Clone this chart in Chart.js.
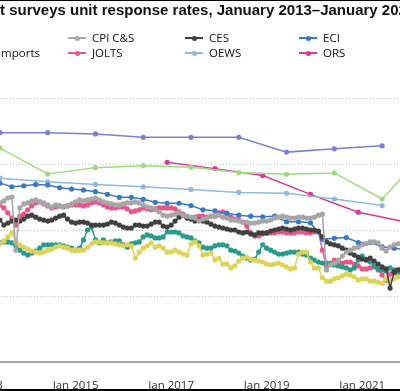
<!DOCTYPE html>
<html><head><meta charset="utf-8">
<script src="https://cdn.jsdelivr.net/npm/chart.js@4.4.1/dist/chart.umd.min.js"></script>
<style>
html,body{margin:0;padding:0;background:#fff;overflow:hidden;width:400px;height:391px;position:relative}
#wrap{position:absolute;left:-60px;top:0;width:520px;height:391px}
#title{position:absolute;top:1px;white-space:nowrap;font:bold 15px 'Liberation Sans',Arial,sans-serif;color:#111;line-height:18px}
.lg{position:absolute;white-space:nowrap;height:14px;width:140px}
.lg .tx{position:absolute;left:24px;top:0;font:11.5px 'Open Sans',sans-serif;color:#111;line-height:14px}
.lg .mk{position:absolute;left:0;top:6px;width:18px;height:2px}
.lg .dot{position:absolute;left:6.5px;top:-1.5px;width:5px;height:5px;border-radius:50%}
.rule{position:absolute;left:0;width:400px;background:#000}
</style></head><body>
<div id="wrap"><canvas id="c" width="520" height="391"></canvas></div>
<div id="title"></div>
<div id="legend"></div>
<div class="rule" style="top:0;height:1px"></div>
<div class="rule" style="top:389px;height:2px"></div>
<script>
// ---- text ----
const titleText = 'BLS establishment surveys unit response rates, January 2013\u2013January 2022';
const titleHiddenPrefix = 'BLS establishmen';

// ---- x axis ticks (month index from Jan 2013) ----
const tickMonths = [0, 24, 48, 72, 96];
const tickLabels = ['Jan 2013', 'Jan 2015', 'Jan 2017', 'Jan 2019', 'Jan 2021'];

// ---- annual series (month index of each observation) ----
const annualMonths = [5, 17, 29, 41, 53, 65, 77, 89, 101];
const soii = [69.5, 69.5, 69.1, 68.1, 68.1, 68.1, 63.6, 64.6, 65.5];
const arsMonths = [5, 17, 29, 41, 53, 65, 77, 89, 101, 108];
const ars = [64.8, 57.0, 58.9, 59.5, 59.0, 57.4, 56.9, 57.3, 49.4, 58.5];
const oews = [55.7, 54.6, 53.8, 53.1, 52.3, 51.4, 51.1, 49.4, 47.4];
const orsMonths = [47, 59, 71, 83, 95, 107];
const ors = [60.5, 58.6, 56.5, 50.8, 45.4, 42.4];

// ---- quarterly series ----
const eciMonths = [2,5,8,11,14,17,20,23,26,29,32,35,38,41,44,47,50,53,56,59,62,65,68,71,74,77,80,83,86,89,92,95,98,101,104,107];
const eci = [54.5, 54.2, 53.1, 53.4, 53.8, 53.6, 52.8, 52.4, 52.1, 51.6, 50.8, 49.9, 49.9, 49.3, 48.4, 48.1, 48.1, 47.4,
             46.1, 45.8, 45.1, 44.5, 44.2, 44.0, 44.2, 42.5, 42.5, 42.2, 37.2, 37.5, 37.7, 36.2, 36.2, 34.9, 34.5, 34.0];

// ---- monthly series, Jan 2013 .. Jan 2022 (one row per year) ----
const cpiCS = [
  48.5, 48.0, 48.8, 49.1, 48.5, 48.2, 48.8, 49.7, 50.0, 33.9, 46.7, 47.9,
  48.2, 48.8, 49.1, 48.5, 48.2, 47.6, 47.0, 47.6, 47.3, 47.0, 47.3, 47.9,
  48.5, 49.1, 48.8, 49.1, 49.4, 49.7, 49.1, 48.5, 48.2, 47.9, 47.6, 47.6,
  47.9, 48.2, 48.2, 48.5, 48.2, 47.6, 47.0, 46.7, 46.1, 45.5, 44.5, 44.2,
  44.5, 44.8, 45.2, 44.5, 44.2, 43.9, 43.6, 42.7, 43.3, 43.6, 44.2, 44.5,
  44.5, 43.9, 43.6, 43.0, 43.0, 42.7, 42.4, 42.4, 42.1, 42.1, 42.4, 42.7,
  42.7, 43.0, 43.6, 43.9, 44.2, 43.9, 43.6, 43.6, 43.9, 43.9, 43.6, 43.6,
  43.9, 44.5, 44.8, 27.9, 29.4, 30.0, 30.9, 32.1, 33.3, 33.9, 34.5, 34.8,
  35.5, 35.8, 36.4, 36.4, 36.1, 34.5, 33.6, 34.8, 35.5, 35.8, 36.1, 36.4,
  36.0];
const ces = [
  42.4, 43.0, 42.7, 43.3, 42.7, 43.0, 41.5, 42.1, 42.7, 43.0, 42.7, 43.3,
  44.2, 44.5, 43.9, 43.3, 43.0, 42.7, 43.0, 43.6, 44.2, 44.5, 43.3, 42.4,
  42.1, 42.4, 42.4, 42.1, 41.5, 41.5, 41.5, 41.5, 41.8, 42.4, 42.1, 41.5,
  40.9, 40.6, 40.6, 41.5, 41.5, 41.2, 41.2, 41.8, 42.4, 42.4, 41.2, 40.9,
  41.5, 42.7, 43.9, 44.5, 43.6, 43.3, 42.7, 43.0, 42.7, 42.4, 41.8, 41.2,
  40.9, 40.6, 40.3, 40.0, 40.0, 39.4, 39.1, 39.4, 38.8, 38.5, 39.1, 39.1,
  39.1, 39.7, 40.0, 40.3, 40.6, 40.3, 40.0, 40.3, 40.6, 40.6, 40.3, 40.0,
  40.0, 39.7, 37.9, 36.4, 35.8, 35.5, 35.2, 34.5, 33.9, 33.0, 32.4, 31.8,
  31.2, 30.9, 31.5, 30.6, 29.7, 28.8, 28.2, 22.4, 27.3, 27.9, 28.5, 28.8,
  28.5];
const jolts = [
  47.0, 46.4, 47.3, 47.9, 47.6, 47.6, 46.7, 45.2, 43.6, 41.5, 44.2, 44.8,
  46.1, 47.3, 48.2, 48.5, 47.9, 47.3, 46.7, 47.0, 47.3, 47.0, 47.3, 47.6,
  47.6, 47.6, 47.3, 47.6, 48.2, 48.5, 48.2, 47.6, 47.0, 46.7, 46.7, 47.0,
  47.0, 46.4, 45.5, 45.8, 46.1, 46.7, 46.4, 46.1, 46.4, 46.7, 46.7, 46.7,
  46.7, 46.4, 45.5, 44.8, 43.9, 43.6, 43.9, 44.2, 44.2, 43.9, 44.2, 44.2,
  45.2, 45.5, 44.5, 43.9, 43.3, 43.0, 42.4, 41.2, 39.1, 38.2, 38.2, 38.8,
  39.1, 39.1, 39.1, 39.4, 39.4, 39.1, 39.1, 39.1, 39.4, 39.4, 39.1, 39.1,
  39.4, 39.4, 33.9, 29.1, 30.0, 30.9, 30.6, 30.0, 30.3, 30.3, 29.7, 29.1,
  28.2, 28.2, 28.5, 28.8, 27.9, 26.4, 24.8, 26.7, 27.0, 27.0, 26.7, 26.4,
  26.1];
const mxpImports = [
  36.4, 36.7, 36.1, 35.8, 36.1, 36.1, 36.4, 36.4, 36.1, 35.2, 33.9, 33.0,
  32.4, 33.0, 33.6, 34.5, 35.5, 35.5, 35.5, 35.5, 35.5, 35.2, 34.8, 34.5,
  33.9, 34.5, 37.0, 40.0, 40.9, 37.0, 36.1, 37.0, 36.1, 36.4, 36.7, 36.7,
  35.5, 34.8, 35.8, 36.1, 36.4, 37.9, 38.5, 38.2, 37.6, 37.6, 37.9, 39.4,
  39.4, 39.4, 39.1, 38.2, 37.9, 37.6, 36.7, 36.1, 34.8, 34.5, 34.5, 35.2,
  35.5, 35.5, 35.2, 33.9, 33.6, 33.0, 32.1, 31.5, 30.9, 31.2, 33.3, 35.5,
  34.5, 33.9, 33.3, 32.7, 32.7, 33.0, 33.3, 33.3, 33.3, 32.7, 32.4, 31.5,
  30.9, 30.3, 30.0, 30.0, 29.7, 29.4, 29.1, 28.8, 28.5, 27.9, 28.5, 30.9,
  32.1, 31.2, 30.3, 29.1, 28.2, 27.9, 27.6, 28.5, 27.9, 26.7, 26.1, 26.4,
  25.8];
const mxpExports = [
  35.2, 35.8, 36.1, 35.5, 35.2, 35.8, 36.7, 37.9, 39.1, 36.4, 35.5, 34.8,
  34.2, 33.6, 33.3, 33.0, 33.3, 33.9, 34.2, 34.8, 35.2, 34.8, 34.5, 33.9,
  33.9, 33.9, 33.9, 34.8, 35.8, 36.4, 36.4, 36.1, 36.1, 36.1, 35.8, 35.5,
  35.2, 35.5, 35.2, 31.5, 33.3, 34.5, 35.2, 36.1, 34.8, 35.2, 34.5, 33.3,
  33.3, 33.9, 33.3, 32.7, 32.4, 35.8, 36.4, 35.2, 32.4, 32.7, 33.0, 30.9,
  31.5, 29.7, 29.7, 28.5, 29.1, 30.6, 31.5, 31.8, 31.2, 30.9, 30.6, 30.3,
  29.7, 29.4, 29.7, 30.0, 29.4, 28.8, 28.2, 28.5, 32.7, 33.3, 33.3, 30.3,
  28.5, 28.5, 25.5, 24.5, 24.5, 25.2, 25.5, 26.1, 26.7, 26.4, 25.8, 24.8,
  25.2, 25.2, 24.5, 24.5, 24.2, 23.9, 25.2, 24.8, 25.2, 25.8, 26.1, 25.5,
  25.8];

// ---- series styling / legend order ----
const seriesLabels = ['SOII', 'ARS', 'CPI C&S', 'CES', 'ECI', 'MXP Exports', 'MXP Imports', 'JOLTS', 'OEWS', 'ORS'];
const seriesColors = ['#7b7fd4', '#9fdb7f', '#a6a6a6', '#404040', '#3b78c2', '#ddd25a', '#2a9a8a', '#e9558b', '#8fb9e3', '#d4399b'];

const monthly = arr => arr.map((v, i) => ({x: i, y: v}));
const paired = (ms, vs) => ms.map((m, i) => ({x: m, y: vs[i]}));
const seriesData = [
  paired(annualMonths, soii),
  paired(arsMonths, ars),
  monthly(cpiCS),
  monthly(ces),
  paired(eciMonths, eci),
  monthly(mxpExports),
  monthly(mxpImports),
  monthly(jolts),
  paired(annualMonths, oews),
  paired(orsMonths, ors)
];

// ---- title (left part falls outside the frame, as in the cropped figure) ----
const tEl = document.getElementById('title');
tEl.textContent = titleText;
const mctx = document.createElement('canvas').getContext('2d');
mctx.font = "bold 15px 'Liberation Sans'";
tEl.style.left = (-mctx.measureText(titleHiddenPrefix).width) + 'px';

// ---- legend (5 columns x 2 rows) ----
const colX = [-146, -29, 92, 209, 323];
const rowY = [31, 46];
const lgEl = document.getElementById('legend');
seriesLabels.forEach((lab, i) => {
  const r = Math.floor(i / 5), c = i % 5;
  const d = document.createElement('div');
  d.className = 'lg';
  d.style.left = (colX[c] - 24) + 'px';
  d.style.top = rowY[r] + 'px';
  d.innerHTML = '<div class="mk" style="background:' + seriesColors[i] + '"><div class="dot" style="background:' + seriesColors[i] + '"></div></div>';
  const t = document.createElement('span');
  t.className = 'tx';
  t.textContent = lab;
  d.appendChild(t);
  lgEl.appendChild(d);
});

// ---- chart ----
new Chart(document.getElementById('c'), {
  type: 'line',
  data: {
    datasets: seriesData.map((d, i) => ({
      label: seriesLabels[i],
      data: d,
      borderColor: seriesColors[i],
      backgroundColor: seriesColors[i],
      borderWidth: 1.5,
      pointRadius: 2.6,
      pointBorderWidth: 0,
      pointBackgroundColor: seriesColors[i],
      tension: 0,
      fill: false
    }))
  },
  options: {
    responsive: false,
    animation: false,
    devicePixelRatio: 1,
    layout: {padding: {top: 98, right: 50, left: 0, bottom: 0}},
    plugins: {legend: {display: false}, title: {display: false}, tooltip: {enabled: false}},
    scales: {
      x: {
        type: 'linear', min: 0, max: 108,
        grid: {display: false, drawTicks: false},
        border: {display: true, color: '#a3a3a3', width: 2},
        afterBuildTicks: s => { s.ticks = tickMonths.map(v => ({value: v})); },
        afterFit: s => { s.height = 29; },
        ticks: {
          padding: 17, maxRotation: 0, autoSkip: false,
          color: '#333', font: {family: 'Open Sans', size: 11.5},
          callback: v => tickLabels[tickMonths.indexOf(v)]
        }
      },
      y: {
        min: 0, max: 80,
        afterFit: s => { s.width = 40; },
        ticks: {display: false, stepSize: 20},
        grid: {color: '#c4c4c4', lineWidth: 1, drawTicks: false},
        border: {display: false, dash: [1, 2]}
      }
    }
  }
});
</script>
</body></html>
